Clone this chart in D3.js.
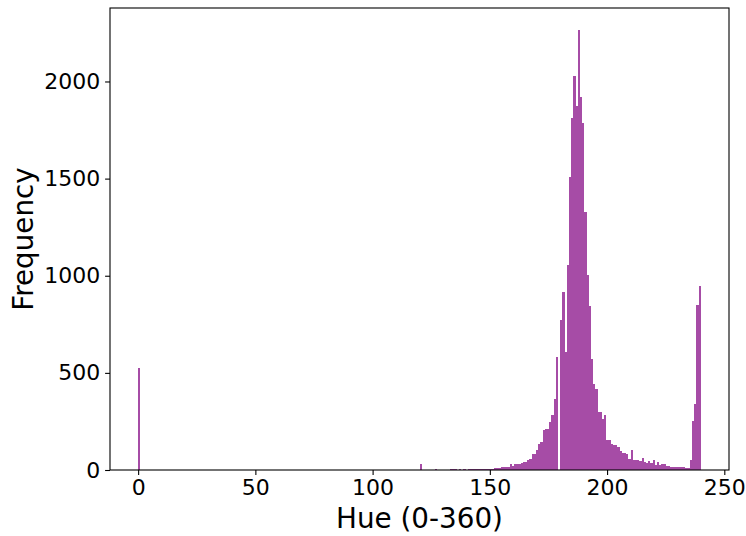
<!DOCTYPE html>
<html><head><meta charset="utf-8">
<script src="https://cdn.jsdelivr.net/npm/d3@7"></script>
<style>
body{margin:0;background:#fff}
text{font-family:"DejaVu Sans",sans-serif;fill:#000}
</style>
</head><body>
<svg id="chart" width="746" height="536"></svg>
<script>
// ---- data ----
const xTickValues = [0, 50, 100, 150, 200, 250];
const yTickValues = [0, 500, 1000, 1500, 2000];
const hueRange = [0, 240];
const xLabel = "Hue (0-360)";
const yLabel = "Frequency";
// 256 equal-width bins over hueRange
const counts = [
  523,
  0,0,0,0,0,0,0,0,0,0,0,0,0,0,0,0,0,0,0,0,0,0,0,0,0,0,0,0,0,0,0,0,
  0,0,0,0,0,0,0,0,0,0,0,0,0,0,0,0,0,0,0,0,0,0,0,0,0,0,0,0,0,0,0,0,
  0,0,0,0,0,0,0,0,0,0,0,0,0,0,0,0,0,0,0,0,0,0,0,0,0,0,0,0,0,0,0,0,
  0,0,0,0,0,0,0,0,0,0,0,0,0,0,0,0,0,0,0,0,0,0,0,0,0,0,0,0,0,0,0,
  33,
  0,0,0,0,0,0,
  4,
  0,0,0,0,
  0,0,3,3,3,0,3,0,3,0,3,4,3,3,3,3,4,5,5,5,
  6,6,8,8,10,15,15,18,18,32,23,32,30,32,35,
  40,40,52,58,83,83,104,135,143,204,212,212,246,281,367,581,0,
  771,915,607,1054,1509,1810,2028,1874,2265,1918,1784,1330,1006,843,573,444,418,298,298,260,281,152,152,135,
  130,130,120,100,87,87,80,58,101,52,52,49,44,63,40,35,47,35,52,28,40,28,32,30,22,20,16,16,15,18,13,14,13,11,11,50,252,338,848,946
];

// ---- layout ----
const plotL = 110, plotR = 729, plotT = 8, plotB = 470;
const svg = d3.select("#chart");

const nBins = counts.length;
const binW = (hueRange[1] - hueRange[0]) / nBins;
const bins = counts.map((c, i) => ({x0: hueRange[0] + i * binW, x1: hueRange[0] + (i + 1) * binW, c}));

const span = hueRange[1] - hueRange[0];
const x = d3.scaleLinear().domain([hueRange[0] - 0.05 * span, hueRange[1] + 0.05 * span]).range([plotL, plotR]);
const y = d3.scaleLinear().domain([0, d3.max(counts) * 1.05]).range([plotB, plotT]);

svg.append("g").attr("shape-rendering", "crispEdges")
  .selectAll("rect").data(bins.filter(b => b.c > 0)).join("rect")
  .attr("x", d => x(d.x0))
  .attr("width", d => x(d.x1) - x(d.x0))
  .attr("y", d => y(d.c))
  .attr("height", d => y(0) - y(d.c))
  .attr("fill", "#800080")
  .attr("fill-opacity", 0.7);

const xAxis = svg.append("g").attr("transform", `translate(0,${plotB})`)
  .call(d3.axisBottom(x).tickValues(xTickValues).tickFormat(d3.format("d")).tickSize(4.9).tickPadding(4.9));
const yAxis = svg.append("g").attr("transform", `translate(${plotL},0)`)
  .call(d3.axisLeft(y).tickValues(yTickValues).tickFormat(d3.format("d")).tickSize(4.9).tickPadding(4.9));
[xAxis, yAxis].forEach(g => {
  g.select(".domain").remove();
  g.selectAll(".tick line").attr("stroke", "#000").attr("stroke-width", 1.1);
  g.selectAll(".tick text").attr("font-size", 22).attr("font-family", "DejaVu Sans").attr("fill", "#000");
});

svg.append("rect").attr("x", plotL).attr("y", plotT).attr("width", plotR - plotL).attr("height", plotB - plotT)
  .attr("fill", "none").attr("stroke", "#000").attr("stroke-width", 1.1);

svg.append("text").attr("x", (plotL + plotR) / 2).attr("y", 528).attr("text-anchor", "middle")
  .attr("font-size", 27.8).text(xLabel);
svg.append("text").attr("transform", `translate(33,${(plotT + plotB) / 2}) rotate(-90)`).attr("text-anchor", "middle")
  .attr("font-size", 27.8).text(yLabel);
</script>
</body></html>
